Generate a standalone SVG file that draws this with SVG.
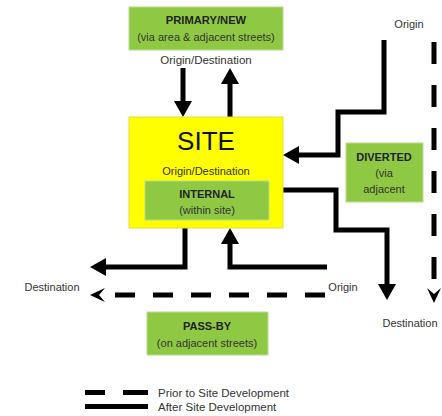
<svg xmlns="http://www.w3.org/2000/svg" width="442" height="416" viewBox="0 0 442 416">
<defs>
<style>
text{font-family:"Liberation Sans",Arial,sans-serif;fill:#333;text-anchor:middle;font-size:11px}
.b{font-weight:bold;fill:#222}
.green{fill:#8fc944;stroke:#b9dc8e;stroke-width:1}
.ln{fill:none;stroke:#000;stroke-width:5;stroke-linejoin:miter}
.dash{fill:none;stroke:#000;stroke-width:5}
.lt{text-anchor:start}
</style>
<marker id="ah" viewBox="0 0 16 18" refX="2" refY="9" markerWidth="16" markerHeight="18" markerUnits="userSpaceOnUse" orient="auto">
<path d="M0,0 L16,9 L0,18 z" fill="#000"/>
</marker>
<marker id="ch" viewBox="0 0 15 14" refX="0" refY="7" markerWidth="15" markerHeight="14" markerUnits="userSpaceOnUse" orient="auto">
<path d="M0,0 L15,7 L0,14 L6,7 z" fill="#000"/>
</marker>
</defs>
<rect width="442" height="416" fill="#fff"/>

<g id="connectors">
<polyline class="ln" points="183,68 183,103" marker-end="url(#ah)"/>
<polyline class="ln" points="230,117 230,82" marker-end="url(#ah)"/>
<polyline class="ln" points="384,40 384,112 338,112 338,155 297,155" marker-end="url(#ah)"/>
<polyline class="ln" points="283,190 336,190 336,230 387,230 387,286" marker-end="url(#ah)"/>
<polyline class="ln" points="185,228 185,267 104,267" marker-end="url(#ah)"/>
<polyline class="ln" points="327,267 230,267 230,242" marker-end="url(#ah)"/>
<line class="dash" x1="434" y1="42" x2="434" y2="288" stroke-dasharray="22 21" marker-end="url(#ch)"/>
<line class="dash" x1="325" y1="295" x2="105" y2="295" stroke-dasharray="20 18" marker-end="url(#ch)"/>
</g>

<g id="primary">
<rect class="green" x="129" y="7" width="154" height="43"/>
<text class="b" x="206" y="24" style="font-size:11.2px">PRIMARY/NEW</text>
<text x="206" y="41">(via area &amp; adjacent streets)</text>
</g>
<g id="primary-label">
<text x="206" y="64" style="font-size:11.5px">Origin/Destination</text>
</g>

<g id="site">
<rect x="129" y="117" width="154" height="111" fill="#ffff00" stroke="#e6d84a" stroke-width="1"/>
<text x="206" y="150" style="font-size:26px;fill:#111">SITE</text>
<text x="206" y="175">Origin/Destination</text>
</g>
<g id="internal">
<rect class="green" x="145" y="181" width="124" height="39"/>
<text class="b" x="207" y="198">INTERNAL</text>
<text x="207" y="214">(within site)</text>
</g>

<g id="diverted">
<rect class="green" x="346" y="143" width="77" height="59"/>
<text class="b" x="384" y="161">DIVERTED</text>
<text x="384" y="177">(via</text>
<text x="384" y="193">adjacent</text>
</g>

<g id="passby">
<rect class="green" x="147" y="312" width="121" height="43"/>
<text class="b" x="207" y="330">PASS-BY</text>
<text x="207" y="347">(on adjacent streets)</text>
</g>

<g id="labels">
<text x="409" y="28">Origin</text>
<text x="52" y="291">Destination</text>
<text x="343" y="291">Origin</text>
<text x="410" y="327">Destination</text>
</g>

<g id="legend">
<rect x="85" y="390" width="20" height="5" fill="#000"/>
<rect x="123" y="390" width="25" height="5" fill="#000"/>
<rect x="85" y="404" width="63" height="5" fill="#000"/>
<text class="lt" x="158" y="397" style="font-size:11.5px">Prior to Site Development</text>
<text class="lt" x="158" y="411" style="font-size:11.5px">After Site Development</text>
</g>
</svg>
